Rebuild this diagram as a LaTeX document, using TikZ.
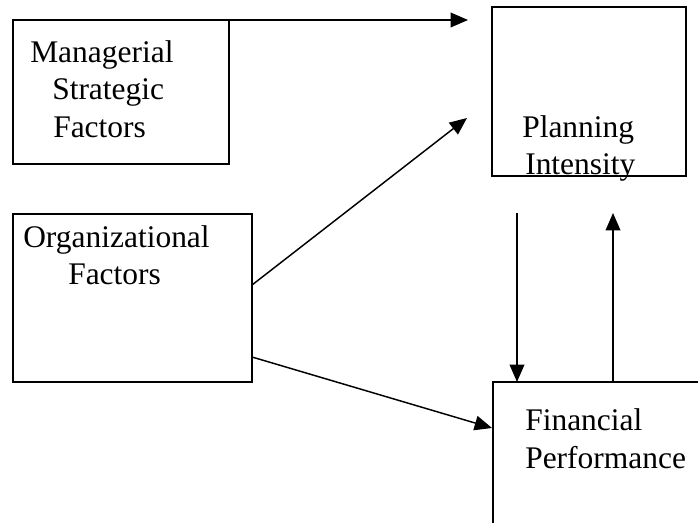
\documentclass[tikz,border=0pt]{standalone}
\usepackage{fontspec}
\setmainfont{Liberation Serif}
\usetikzlibrary{arrows.meta}
\begin{document}
\begin{tikzpicture}[x=0.75pt,y=-0.75pt,
    box/.style={draw,line width=1.2pt,anchor=north west,inner sep=0pt,outer sep=0pt},
    txt/.style={anchor=base west,inner sep=0pt,font=\fontsize{23.6}{27.6}\selectfont},
    link/.style={line width=1.1pt,-{Triangle[length=13pt,width=11pt]}}]
  \useasboundingbox (0,0) rectangle (698,523);
  \clip (0,0) rectangle (698,523);
  % boxes
  \node[box,minimum width=162pt,minimum height=108pt] (mgr) at (13,20) {};
  \node[box,minimum width=179.25pt,minimum height=126pt] (org) at (13,214) {};
  \node[box,minimum width=145.5pt,minimum height=126.75pt] (plan) at (492,7) {};
  \node[box,minimum width=170pt,minimum height=130pt] (fin) at (493,382) {};
  % labels
  \draw
    (30,63) node[txt] (mgr1){Managerial}
    (52,100) node[txt] (mgr2){Strategic}
    (53,138) node[txt] (mgr3){Factors}
    (23,248) node[txt] (org1){Organizational}
    (68,285) node[txt] (org2){Factors}
    (522,138) node[txt] (plan1){Planning}
    (525,175) node[txt] (plan2){Intensity}
    (525,430) node[txt] (fin1){Financial}
    (525,468) node[txt] (fin2){Performance};
  % arrow ends
  \coordinate (a1) at (468,20);
  \coordinate (a2s) at (252,285);
  \coordinate (a2) at (467,118);
  \coordinate (a3s) at (252,357);
  \coordinate (a3) at (492,428);
  \coordinate (a4s) at (517,213);
  \coordinate (a4) at (517,382);
  \coordinate (a5s) at (613,382);
  \coordinate (a5) at (613,213);
  \begin{scope}[link]
    \draw (mgr.north east) to (a1);
    \draw (a2s) to (a2);
    \draw (a3s) to (a3);
    \draw (a4s) to (a4);
    \draw (a5s) to (a5);
  \end{scope}
\end{tikzpicture}
\end{document}
